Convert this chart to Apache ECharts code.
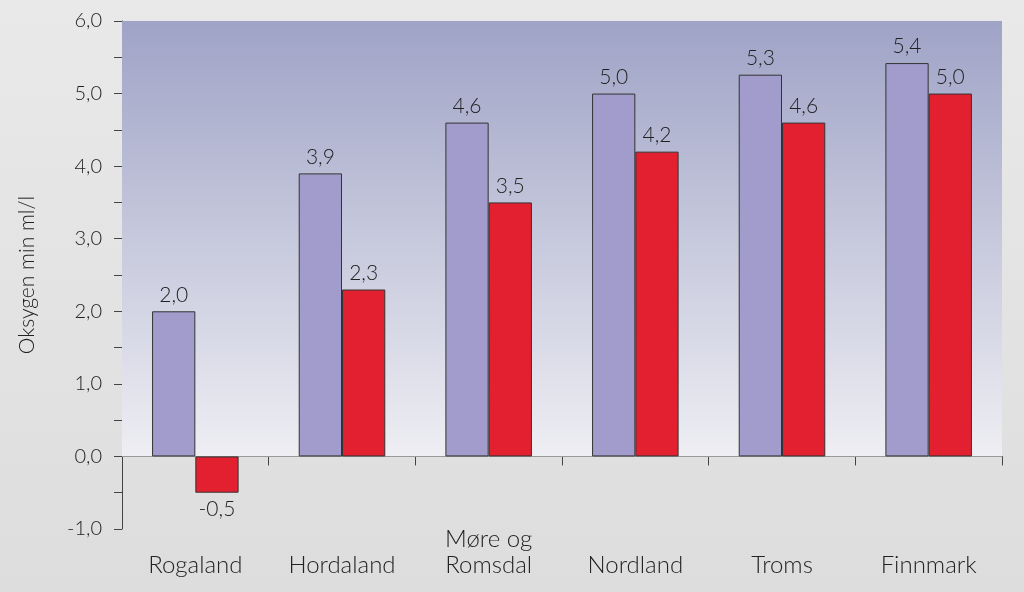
<!DOCTYPE html>
<html><head><meta charset="utf-8">
<script src="https://cdn.jsdelivr.net/npm/echarts@6/dist/echarts.min.js"></script>
<style>html,body{margin:0;padding:0;}#c{width:1024px;height:592px;}</style>
</head><body><div id="c"></div>
<script>
const categories = ['Rogaland', 'Hordaland', 'Møre og\nRomsdal', 'Nordland', 'Troms', 'Finnmark'];
const seriesA = [2.0, 3.9, 4.6, 5.0, 5.26, 5.42];
const seriesB = [-0.5, 2.3, 3.5, 4.2, 4.6, 5.0];
const yTicks = [-1, 0, 1, 2, 3, 4, 5, 6];

const FONT = 'Lato';
const FW = 300;
const fmt = v => v.toFixed(1).replace('.', ',');
const toData = arr => arr.map(v => ({ value: v, label: { position: v < 0 ? 'bottom' : 'top' } }));

const chart = echarts.init(document.getElementById('c'));
chart.setOption({
  backgroundColor: new echarts.graphic.LinearGradient(0, 0, 0, 1, [
    { offset: 0, color: '#e9e9e9' }, { offset: 1, color: '#dcdddc' }
  ]),
  animation: false,
  grid: { left: 122, right: 22, top: 21, bottom: 63, containLabel: false, outerBoundsMode: 'none' },
  xAxis: {
    type: 'category',
    data: categories,
    axisLine: { onZero: true, lineStyle: { color: '#444', width: 1 } },
    axisTick: { show: true, length: 9, lineStyle: { color: '#444' } },
    axisLabel: {
      interval: 0, margin: 49, verticalAlign: 'bottom', lineHeight: 26,
      fontFamily: FONT, fontWeight: FW, fontSize: 24, color: '#222'
    }
  },
  yAxis: {
    type: 'value', min: -1, max: 6, interval: 0.5,
    name: 'Oksygen min ml/l', nameLocation: 'middle', nameGap: 84,
    nameTextStyle: { fontFamily: FONT, fontWeight: FW, fontSize: 21, color: '#222' },
    axisLine: { show: true, lineStyle: { color: '#444', width: 1 } },
    axisTick: { show: true, length: 8, lineStyle: { color: '#444' } },
    splitLine: { show: false },
    axisLabel: {
      margin: 20, fontFamily: FONT, fontWeight: FW, fontSize: 20, color: '#222',
      formatter: v => yTicks.includes(v) ? fmt(v) : ''
    }
  },
  series: [
    {
      type: 'bar', data: toData(seriesA), barGap: '0%', barCategoryGap: '41%',
      itemStyle: { color: '#a19ccb', borderColor: '#333', borderWidth: 1 },
      label: { show: true, distance: 6, fontFamily: FONT, fontWeight: FW, fontSize: 21, color: '#222', formatter: p => fmt(p.value) },
      markArea: {
        silent: true,
        itemStyle: {
          color: new echarts.graphic.LinearGradient(0, 0, 0, 1, [
            { offset: 0, color: '#9fa3c6' }, { offset: 1, color: '#eeeef3' }
          ])
        },
        data: [[{ yAxis: 0 }, { yAxis: 6 }]]
      }
    },
    {
      type: 'bar', data: toData(seriesB),
      itemStyle: { color: '#e3202f', borderColor: '#333', borderWidth: 1 },
      label: { show: true, distance: 6, fontFamily: FONT, fontWeight: FW, fontSize: 21, color: '#222', formatter: p => fmt(p.value) }
    }
  ]
});
</script>
</body></html>
